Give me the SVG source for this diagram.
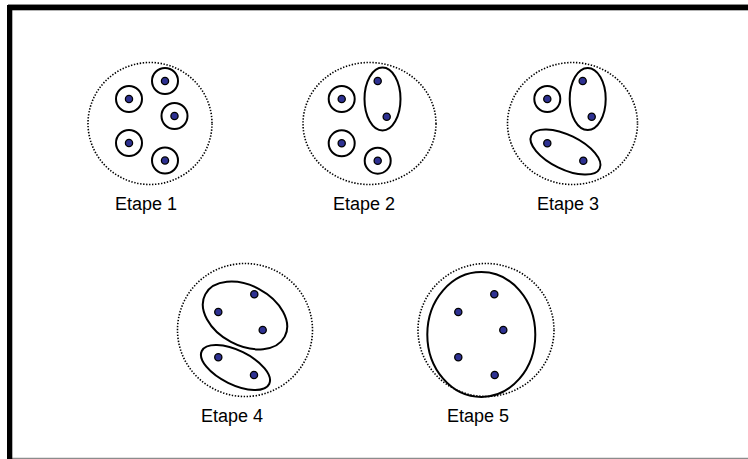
<svg xmlns="http://www.w3.org/2000/svg" width="748" height="459" viewBox="0 0 748 459">
<defs>
<style>
.frame{fill:#000}
.edge{stroke:#8c8c8c;stroke-width:1.2;fill:none}
.scope{fill:none;stroke:#000;stroke-width:1.6;stroke-dasharray:1.4 1.6}
.grp{fill:none;stroke:#000;stroke-width:2}
.pt{fill:#2E3192;stroke:#000;stroke-width:1.3}
.lbl{font-family:"Liberation Sans",Arial,sans-serif;font-size:18px;fill:#000;text-anchor:middle}
</style>
</defs>
<rect width="748" height="459" fill="#fff"/>
<g id="frame">
<line class="edge" x1="8" y1="4.6" x2="748" y2="4.6"/>
<line class="edge" x1="12" y1="458.3" x2="748" y2="458.3"/>
<rect class="frame" x="7" y="5" width="741" height="5.3"/>
<rect class="frame" x="7" y="5" width="5.3" height="454"/>
</g>
<g id="etape1">
<ellipse class="scope" cx="150" cy="123.5" rx="62" ry="61"/>
<circle class="grp" cx="129" cy="99" r="13"/>
<circle class="grp" cx="165" cy="81" r="13"/>
<circle class="grp" cx="174.5" cy="116" r="13"/>
<circle class="grp" cx="129" cy="143" r="13"/>
<circle class="grp" cx="165" cy="160.5" r="13"/>
<circle class="pt" cx="129" cy="99" r="3.6"/>
<circle class="pt" cx="165" cy="81" r="3.6"/>
<circle class="pt" cx="174.5" cy="116" r="3.6"/>
<circle class="pt" cx="129" cy="143" r="3.6"/>
<circle class="pt" cx="165" cy="160.5" r="3.6"/>
<text class="lbl" x="146" y="209.5">Etape 1</text>
</g>
<g id="etape2">
<ellipse class="scope" cx="369.5" cy="123.5" rx="66.5" ry="61"/>
<circle class="grp" cx="341.7" cy="99" r="13"/>
<ellipse class="grp" cx="382.5" cy="99" rx="18" ry="31.5"/>
<circle class="grp" cx="341.7" cy="143.3" r="13"/>
<circle class="grp" cx="377.7" cy="160.7" r="13"/>
<circle class="pt" cx="341.7" cy="99" r="3.6"/>
<circle class="pt" cx="377.7" cy="81" r="3.6"/>
<circle class="pt" cx="386.7" cy="116.7" r="3.6"/>
<circle class="pt" cx="341.7" cy="143.3" r="3.6"/>
<circle class="pt" cx="377.7" cy="160.7" r="3.6"/>
<text class="lbl" x="364" y="209.5">Etape 2</text>
</g>
<g id="etape3">
<ellipse class="scope" cx="572.5" cy="123.5" rx="65" ry="61"/>
<circle class="grp" cx="547.3" cy="99" r="13"/>
<ellipse class="grp" cx="587.7" cy="99" rx="18" ry="31"/>
<ellipse class="grp" cx="565.5" cy="152" rx="38" ry="17" transform="rotate(26 565.5 152)"/>
<circle class="pt" cx="547.3" cy="99" r="3.6"/>
<circle class="pt" cx="582.7" cy="81" r="3.6"/>
<circle class="pt" cx="591.7" cy="116.7" r="3.6"/>
<circle class="pt" cx="547.3" cy="143.3" r="3.6"/>
<circle class="pt" cx="583.3" cy="160.7" r="3.6"/>
<text class="lbl" x="568" y="209.5">Etape 3</text>
</g>
<g id="etape4">
<ellipse class="scope" cx="245" cy="330" rx="67.5" ry="66.5"/>
<ellipse class="grp" cx="245" cy="315.5" rx="45" ry="30" transform="rotate(28 245 315.5)"/>
<ellipse class="grp" cx="235.5" cy="367.5" rx="37.5" ry="17" transform="rotate(26 235.5 367.5)"/>
<circle class="pt" cx="254.3" cy="294.3" r="3.6"/>
<circle class="pt" cx="218.3" cy="312" r="3.6"/>
<circle class="pt" cx="262.7" cy="330" r="3.6"/>
<circle class="pt" cx="218.3" cy="357.3" r="3.6"/>
<circle class="pt" cx="254" cy="375" r="3.6"/>
<text class="lbl" x="232" y="422">Etape 4</text>
</g>
<g id="etape5">
<ellipse class="scope" cx="486" cy="330" rx="68" ry="66.5"/>
<ellipse class="grp" cx="481.3" cy="334.5" rx="54" ry="62.5"/>
<circle class="pt" cx="494.3" cy="294.3" r="3.6"/>
<circle class="pt" cx="458.3" cy="312" r="3.6"/>
<circle class="pt" cx="503.3" cy="330" r="3.6"/>
<circle class="pt" cx="458.3" cy="357.3" r="3.6"/>
<circle class="pt" cx="494.7" cy="375" r="3.6"/>
<text class="lbl" x="478" y="422">Etape 5</text>
</g>
<g id="connectors"/>
</svg>
